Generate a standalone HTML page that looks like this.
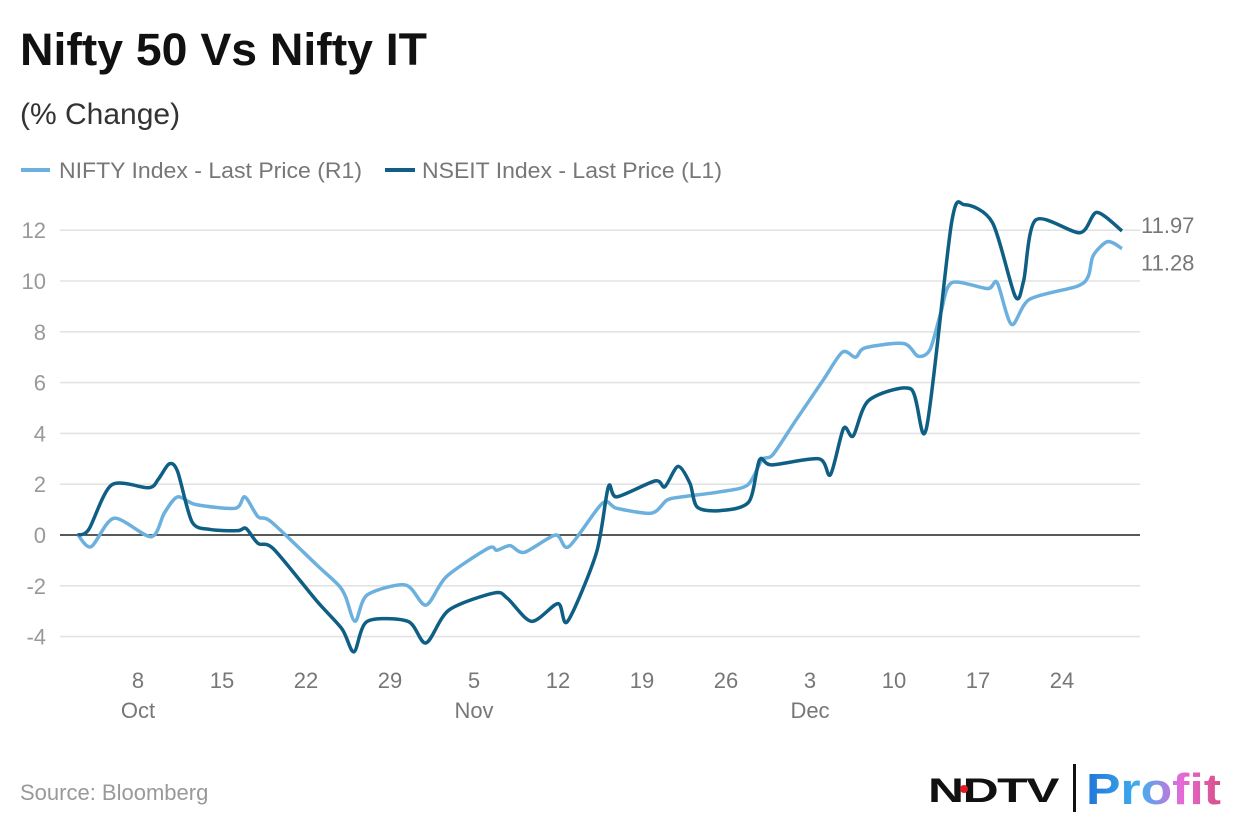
<!DOCTYPE html>
<html><head><meta charset="utf-8"><style>
body{margin:0;background:#fff;width:1240px;height:840px;overflow:hidden;font-family:"Liberation Sans",sans-serif;}
svg{position:absolute;left:0;top:0}
</style></head><body>
<svg width="1240" height="840" id="chart">
<text x="20" y="65" font-size="45" font-weight="bold" fill="#111" textLength="407" lengthAdjust="spacingAndGlyphs">Nifty 50 Vs Nifty IT</text>
<text x="20" y="124" font-size="30" fill="#333">(% Change)</text>
<g font-size="22" fill="#777">
<line x1="21" y1="170" x2="50" y2="170" stroke="#6cb0de" stroke-width="4"/>
<text x="59" y="178" textLength="303" lengthAdjust="spacingAndGlyphs">NIFTY Index - Last Price (R1)</text>
<line x1="385" y1="170" x2="415" y2="170" stroke="#0f5f85" stroke-width="4"/>
<text x="422" y="178" textLength="300" lengthAdjust="spacingAndGlyphs">NSEIT Index - Last Price (L1)</text>
</g>
<g id="grid"></g><g id="yt"></g><g id="xt"></g><g id="series"></g>
<text x="20" y="800" font-size="22" fill="#999">Source: Bloomberg</text>
<g>
<defs><linearGradient id="pg" x1="0" x2="1"><stop offset="0" stop-color="#1f74d8"/><stop offset="0.4" stop-color="#3fb0f0"/><stop offset="0.7" stop-color="#e46ad8"/><stop offset="1" stop-color="#d84f86"/></linearGradient></defs>
<text x="928" y="802" font-size="34" font-weight="bold" fill="#111" letter-spacing="-1" textLength="130" lengthAdjust="spacingAndGlyphs">NDTV</text>
<circle cx="964" cy="789" r="4" fill="#e01b22"/>
<rect x="1073" y="764" width="3" height="48" fill="#111"/>
<text x="1086" y="804" font-size="44" font-weight="bold" fill="url(#pg)" textLength="135" lengthAdjust="spacingAndGlyphs">Profit</text>
</g>
</svg>
<script>
const yTicks=[-4,-2,0,2,4,6,8,10,12];
const xTickDays=[5,12,19,26,33,40,47,54,61,68,75,82];
const xTickLabels=["8","15","22","29","5","12","19","26","3","10","17","24"];
const monthLabels=[{day:5,text:"Oct"},{day:33,text:"Nov"},{day:61,text:"Dec"}];
const niftyDays=[0,1.1,3,6.1,7.2,8.3,9.8,13.1,13.9,15,16.1,19.9,21.7,22.3,23.1,24.1,27.3,29,30.7,34.2,34.9,36,37.2,39.8,40.9,43.7,44.9,47.8,49.1,50.3,53.5,55.8,57,57.9,59.8,62.1,63.7,64.8,65.6,68.8,70,71,71.9,72.8,75.8,76.6,77.8,79.3,83.3,84.2,84.6,85.8,87];
const niftyVals=[0,-0.46,0.66,-0.07,0.87,1.5,1.2,1.05,1.5,0.72,0.52,-1.18,-1.97,-2.43,-3.4,-2.36,-1.97,-2.76,-1.64,-0.52,-0.6,-0.42,-0.68,0,-0.46,1.25,1.05,0.86,1.38,1.5,1.7,1.97,2.96,3.16,4.5,6.1,7.2,7.0,7.37,7.54,7.04,7.3,8.75,9.93,9.7,9.93,8.29,9.28,9.8,10.2,11.0,11.55,11.28];
const itDays=[0,0.9,2.8,5.9,6.7,7.6,8.3,9.5,11,13.3,14,15,16.3,19.9,22,23,24.1,27.5,29,30.9,34.7,35.8,37.8,40,40.8,43.2,44.2,44.9,48.1,48.9,50,51,51.6,53.5,55.9,56.8,57.8,61.75,62.7,63.8,64.6,65.9,69.4,70.7,72.8,73.9,76.2,78.1,78.8,79.8,83.5,84.9,87];
const itVals=[0,0.22,1.97,1.86,2.2,2.8,2.5,0.52,0.22,0.17,0.26,-0.33,-0.55,-2.6,-3.7,-4.6,-3.4,-3.4,-4.25,-2.96,-2.28,-2.5,-3.4,-2.7,-3.4,-0.7,1.9,1.5,2.13,1.9,2.7,2.03,1.1,0.96,1.3,2.96,2.76,3.0,2.37,4.2,3.9,5.3,5.75,4.2,12.3,13.0,12.3,9.4,10.0,12.4,11.9,12.7,11.97];
const endLabels=["11.97","11.28"];
const X0=60,X1=1140;
const xs=d=>78+d*12;
const ys=v=>535-v*25.4;
const NS="http://www.w3.org/2000/svg";
function mk(t,a,p){const e=document.createElementNS(NS,t);for(const k in a)e.setAttribute(k,a[k]);p.appendChild(e);return e;}
const grid=document.getElementById('grid'),yt=document.getElementById('yt'),xt=document.getElementById('xt'),ser=document.getElementById('series');
yTicks.forEach(v=>{
 const l=mk('line',{x1:X0,x2:X1,y1:ys(v),y2:ys(v),stroke:v===0?'#222':'#e3e3e3','stroke-width':1.6},grid);
 
 
 const t=mk('text',{x:46,y:ys(v)+8,'text-anchor':'end','font-size':22,fill:'#999'},yt);t.textContent=v;
 
 
});
xTickDays.forEach((d,i)=>{
 const t=mk('text',{x:xs(d),y:688,'text-anchor':'middle','font-size':22,fill:'#777'},xt);t.textContent=xTickLabels[i];
 
 
});
monthLabels.forEach(m=>{
 const t=mk('text',{x:xs(m.day),y:718,'text-anchor':'middle','font-size':22,fill:'#777'},xt);t.textContent=m.text;
 
 
});
function path(ds,vs){
 const p=ds.map((d,i)=>[xs(d),ys(vs[i])]);
 let s='M'+p[0][0]+','+p[0][1];
 for(let i=0;i<p.length-1;i++){
  const p0=p[Math.max(0,i-1)],p1=p[i],p2=p[i+1],p3=p[Math.min(p.length-1,i+2)];
  const t=0.14;
  const c1=[p1[0]+(p2[0]-p0[0])*t,p1[1]+(p2[1]-p0[1])*t];
  const c2=[p2[0]-(p3[0]-p1[0])*t,p2[1]-(p3[1]-p1[1])*t];
  s+=`C${c1[0]},${c1[1]} ${c2[0]},${c2[1]} ${p2[0]},${p2[1]}`;
 }
 return s;
}
const l1=mk('path',{d:path(niftyDays,niftyVals),fill:'none',stroke:'#6cb0de','stroke-width':3.5,'stroke-linejoin':'round'},ser);


const l2=mk('path',{d:path(itDays,itVals),fill:'none',stroke:'#0f5f85','stroke-width':3.5,'stroke-linejoin':'round'},ser);


const e1=mk('text',{x:1141,y:ys(itVals[itVals.length-1])+2,'font-size':22,fill:'#777'},ser);e1.textContent=endLabels[0];


const e2=mk('text',{x:1141,y:ys(niftyVals[niftyVals.length-1])+22,'font-size':22,fill:'#777'},ser);e2.textContent=endLabels[1];


</script>
</body></html>
